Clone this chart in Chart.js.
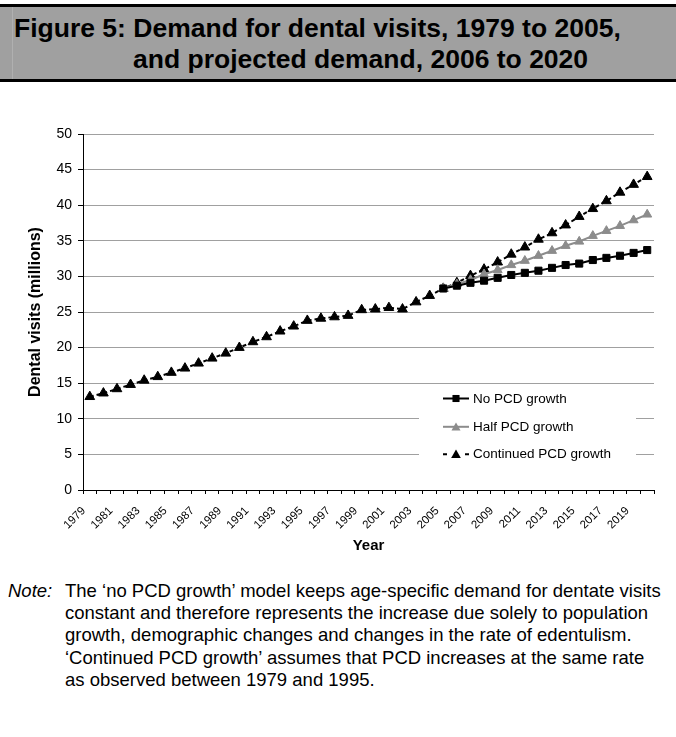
<!DOCTYPE html>
<html>
<head>
<meta charset="utf-8">
<script src="https://cdn.jsdelivr.net/npm/chart.js@4/dist/chart.umd.min.js"></script>
<style>
  html, body { margin: 0; padding: 0; background: #fff; }
  body { width: 676px; height: 737px; position: relative; overflow: hidden;
         font-family: "Liberation Sans", Arial, sans-serif; color: #000; }
  #titlebar { position: absolute; left: 0; top: 4px; width: 676px; height: 72px;
              border-top: 3px solid #000; border-bottom: 3px solid #000; background: #a0a0a0; }
  #titlebar .edge { position: absolute; left: 12px; top: 0; width: 1px; height: 72px; background: #b0b0b0; }
  .tline { position: absolute; font-weight: bold; font-size: 26.5px; line-height: 26.5px; white-space: nowrap; color: #000; }
  #note { position: absolute; left: 0; top: 580px; width: 676px; font-size: 18.5px; line-height: 22.2px; color: #000; }
  #note .lab { position: absolute; left: 8px; top: 0; font-style: italic; }
  #note .txt { position: absolute; left: 65px; top: 0; white-space: nowrap; }
  #c { position: absolute; left: 0; top: 100px; }
</style>
</head>
<body>
<div id="titlebar"><div class="edge"></div></div>
<div class="tline" style="left:14px; top:15px;">Figure 5: Demand for dental visits, 1979 to 2005,</div>
<div class="tline" style="left:133px; top:46px;">and projected demand, 2006 to 2020</div>

<canvas id="c" width="676" height="470"></canvas>

<div id="note">
  <div class="lab">Note:</div>
  <div class="txt">The ‘no PCD growth’ model keeps age-specific demand for dentate visits<br>constant and therefore represents the increase due solely to population<br>growth, demographic changes and changes in the rate of edentulism.<br>‘Continued PCD growth’ assumes that PCD increases at the same rate<br>as observed between 1979 and 1995.</div>
</div>

<script>
// ---- Data ----
const years = ["1979","1980","1981","1982","1983","1984","1985","1986","1987","1988",
  "1989","1990","1991","1992","1993","1994","1995","1996","1997","1998",
  "1999","2000","2001","2002","2003","2004","2005","2006","2007","2008",
  "2009","2010","2011","2012","2013","2014","2015","2016","2017","2018",
  "2019","2020"];

const seriesNames = ["No PCD growth", "Half PCD growth", "Continued PCD growth"];

const noPcdGrowth = [null,null,null,null,null,null,null,null,null,null,
  null,null,null,null,null,null,null,null,null,null,
  null,null,null,null,null,null,28.3,28.7,29.1,29.4,
  29.8,30.2,30.5,30.8,31.2,31.6,31.8,32.3,32.6,32.9,
  33.3,33.7];

const halfPcdGrowth = [null,null,null,null,null,null,null,null,null,null,
  null,null,null,null,null,null,null,null,null,null,
  null,null,null,null,null,null,28.3,28.9,29.5,30.3,
  30.9,31.6,32.2,32.9,33.6,34.3,34.9,35.7,36.4,37.1,
  37.9,38.7];

const continuedPcdGrowth = [13.1,13.6,14.2,14.8,15.4,15.9,16.5,17.1,17.8,18.5,
  19.2,20.0,20.8,21.5,22.3,23.0,23.8,24.1,24.3,24.5,
  25.3,25.4,25.6,25.4,26.4,27.3,28.3,29.1,30.1,31.0,
  32.0,33.1,34.1,35.2,36.1,37.2,38.4,39.5,40.6,41.8,
  42.9,44.0];

const yTicks = [0,5,10,15,20,25,30,35,40,45,50];

// ---- Styling ----
const FONT = '"Liberation Sans", Arial, sans-serif';
const GREY = '#8c8c8c';

const styles = [
  { color: '#000', dash: [], pointStyle: 'rect', radius: 5 },
  { color: GREY, dash: [], pointStyle: 'triangle', radius: 5.2 },
  { color: '#000', dash: [4, 3], pointStyle: 'triangle', radius: 5.6 }
];
const values = [noPcdGrowth, halfPcdGrowth, continuedPcdGrowth];

const datasets = values.map((v, i) => ({
  label: seriesNames[i],
  data: v,
  borderColor: styles[i].color,
  backgroundColor: styles[i].color,
  borderWidth: 2,
  borderDash: styles[i].dash,
  pointStyle: styles[i].pointStyle,
  pointRadius: styles[i].radius,
  pointBorderWidth: 1,
  pointBorderColor: styles[i].color,
  pointBackgroundColor: styles[i].color,
  tension: 0,
  fill: false
}));

function drawMarker(ctx, style, x, y, r, color) {
  ctx.save();
  ctx.fillStyle = color;
  ctx.beginPath();
  if (style === 'rect') {
    const s = r * Math.SQRT1_2;
    ctx.rect(x - s, y - s, 2 * s, 2 * s);
  } else {
    let rad = 0;
    ctx.moveTo(x + Math.sin(rad) * r, y - Math.cos(rad) * r);
    rad += 2 * Math.PI / 3;
    ctx.lineTo(x + Math.sin(rad) * r, y - Math.cos(rad) * r);
    rad += 2 * Math.PI / 3;
    ctx.lineTo(x + Math.sin(rad) * r, y - Math.cos(rad) * r);
    ctx.closePath();
  }
  ctx.fill();
  ctx.restore();
}

const legendPlugin = {
  id: 'insideLegend',
  afterDatasetsDraw(chart) {
    const ctx = chart.ctx;
    const box = { x: 419, y: 285, w: 217, h: 91 };
    ctx.save();
    ctx.fillStyle = '#fff';
    ctx.fillRect(box.x, box.y, box.w, box.h);
    const rowY = [298.5, 326.8, 354.2];
    const x0 = 443, x1 = 469, xm = 456, tx = 473;
    ctx.font = '13.5px ' + FONT;
    ctx.textBaseline = 'middle';
    ctx.textAlign = 'left';
    seriesNames.forEach((name, i) => {
      const st = styles[i];
      const y = rowY[i];
      ctx.save();
      ctx.strokeStyle = st.color;
      ctx.lineWidth = 2;
      if (st.dash.length) {
        ctx.beginPath();
        ctx.moveTo(x0, y); ctx.lineTo(x0 + 4, y);
        ctx.moveTo(x1 - 4, y); ctx.lineTo(x1, y);
        ctx.stroke();
      } else {
        ctx.beginPath();
        ctx.moveTo(x0, y); ctx.lineTo(x1, y);
        ctx.stroke();
      }
      ctx.restore();
      drawMarker(ctx, st.pointStyle, xm, y + (st.pointStyle === 'triangle' ? 1 : 0), st.radius, st.color);
      ctx.fillStyle = '#000';
      ctx.fillText(name, tx, y + 0.5);
    });
    ctx.restore();
  }
};

new Chart(document.getElementById('c'), {
  type: 'line',
  data: { labels: years, datasets: datasets },
  plugins: [legendPlugin],
  options: {
    responsive: false,
    animation: false,
    devicePixelRatio: 1,
    layout: { padding: { left: 0, right: 22, top: 34, bottom: 0 } },
    plugins: { legend: { display: false }, tooltip: { enabled: false } },
    scales: {
      x: {
        type: 'category',
        offset: true,
        grid: { display: true, offset: true, drawOnChartArea: false, drawTicks: true,
                tickLength: 4, color: '#000', tickColor: '#000' },
        border: { display: true, color: '#000', width: 1 },
        ticks: {
          autoSkip: false, maxRotation: 45, minRotation: 45, padding: 10, labelOffset: -6,
          color: '#000', font: { family: FONT, size: 11.5 },
          callback: (v, i) => (i % 2 === 0 ? years[i] : '')
        },
        title: { display: true, text: 'Year', color: '#000',
                 font: { family: FONT, size: 15, weight: 'bold' }, padding: { top: 0, bottom: 15 } },
        afterFit: (s) => { s.height = 80; }
      },
      y: {
        min: 0, max: 50,
        afterBuildTicks: (s) => { s.ticks = yTicks.map(v => ({ value: v })); },
        grid: { display: true, drawTicks: true, tickLength: 5,
                color: (c) => (c.tick && c.tick.value === 0 ? '#000' : '#a0a0a0'),
                tickColor: '#000', lineWidth: 1 },
        border: { display: true, color: '#000', width: 1 },
        ticks: { padding: 6, color: '#000', font: { family: FONT, size: 14 } },
        title: { display: true, text: 'Dental visits (millions)', color: '#000',
                 font: { family: FONT, size: 16, weight: 'bold' }, padding: { top: 26, bottom: 0 } },
        afterFit: (s) => { s.width = 83; }
      }
    }
  }
});
</script>
</body>
</html>
